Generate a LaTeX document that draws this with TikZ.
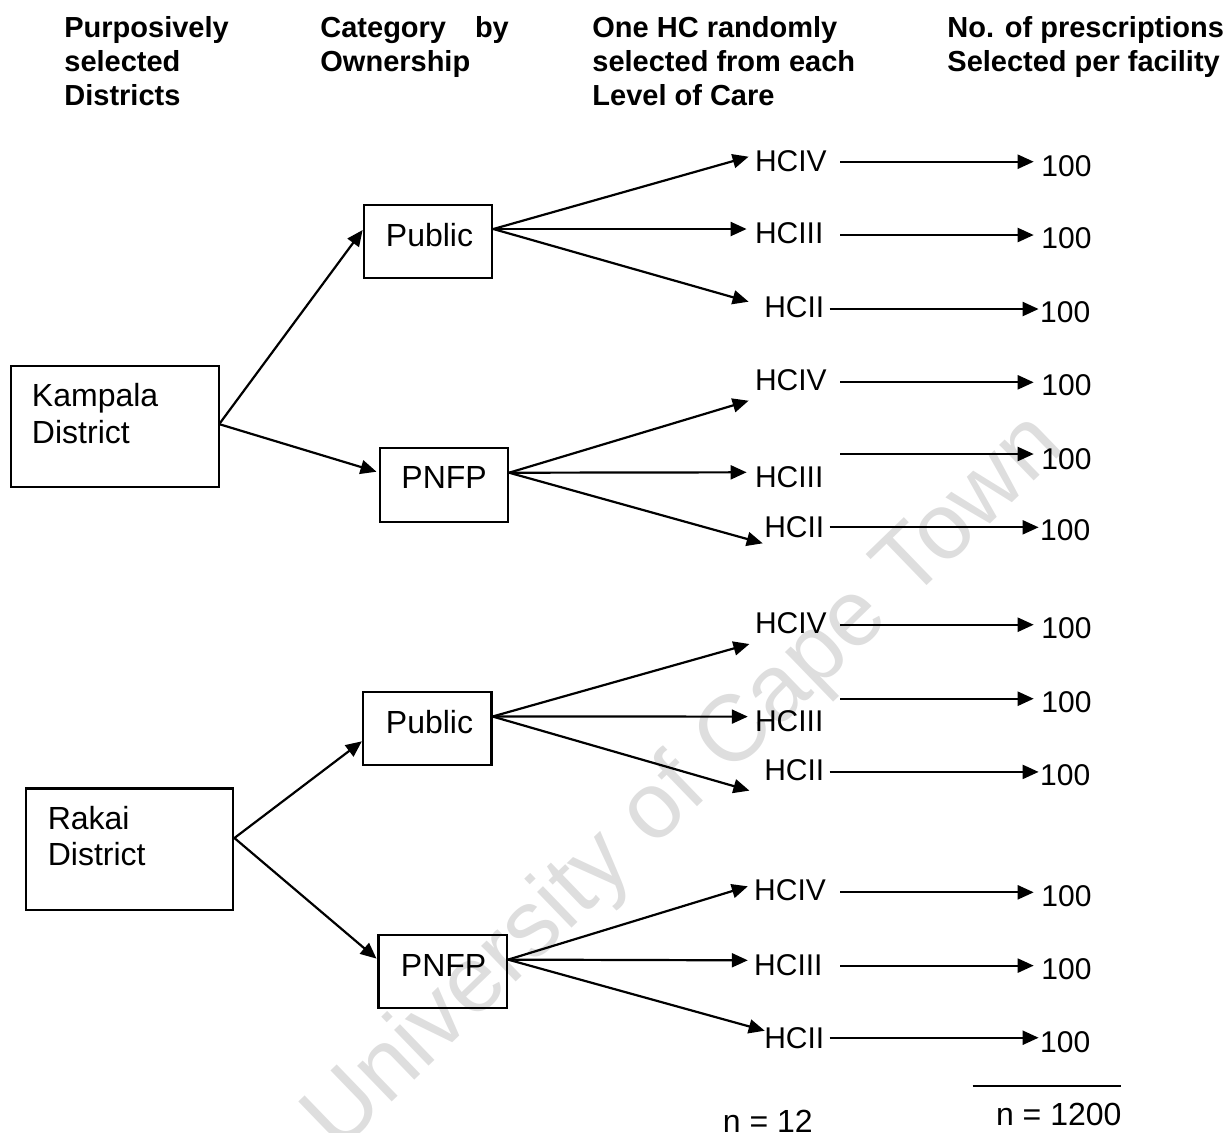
\documentclass[tikz,border=0pt]{standalone}
\usepackage{fontspec}
\setmainfont{Liberation Sans}
\usetikzlibrary{arrows.meta}
\tikzset{
 box/.style={draw, line width=1.1pt, inner sep=0pt},
 boxtxt/.style={font=\fontsize{16}{18.3}\selectfont, inner sep=0pt, anchor=base west, align=left},
 hc/.style={font=\fontsize{15}{18}\selectfont, inner sep=0pt, anchor=base west},
 hdr/.style={font=\bfseries\fontsize{14.5}{17}\selectfont, inner sep=0pt, anchor=base west, align=left},
 arr/.style={line width=1.1pt, -{Triangle[length=8pt,width=7pt]}},
 wmark/.style={rotate=44, text=black!13, font=\fontsize{47}{47}\selectfont, inner sep=0pt},
}
\begin{document}
\begin{tikzpicture}[x=0.5pt,y=-0.5pt]
\useasboundingbox (0,0) rectangle (1229,1132);
% watermark
\node[wmark] (wm) at (686,784) {University of Cape Town};
% headers (anchor = baseline of last line)
\node[hdr] (h1) at (64,105) {Purposively\\selected\\Districts};
\node[hdr] (h2) at (320,71) {Category\hspace{0.72em} by\\Ownership};
\node[hdr] (h3) at (592,105) {One HC randomly\\selected from each\\Level of Care};
\node[hdr] (h4) at (947,71) {No. of prescriptions\\Selected per facility};
% boxes
\node[box, minimum width=104pt, minimum height=60.8pt] (kam) at (114.7,426.5) {};
\node[boxtxt] (kamt) at (31.6,443.3) {Kampala\\District};
\node[box, minimum width=64.25pt, minimum height=36.8pt] (pub1) at (428,241.5) {};
\node[boxtxt] (pub1t) at (385.5,246.5) {Public};
\node[box, minimum width=64.2pt, minimum height=37pt] (pnf1) at (443.8,484.7) {};
\node[boxtxt] (pnf1t) at (401,488.2) {PNFP};
\node[box, minimum width=103.8pt, minimum height=60.9pt] (rak) at (129.5,849.4) {};
\node[boxtxt] (rakt) at (47.4,865.9) {Rakai\\District};
\node[box, minimum width=64.25pt, minimum height=36.5pt] (pub2) at (427.2,728.5) {};
\node[boxtxt] (pub2t) at (385.5,733.4) {Public};
\node[box, minimum width=64.3pt, minimum height=36.6pt] (pnf2) at (442.7,971.6) {};
\node[boxtxt] (pnf2t) at (400.5,976) {PNFP};
% district arrows
\draw[arr] ([yshift=1.6pt]kam.east) -- ([yshift=5.75pt]pub1.west);
\draw[arr] ([yshift=1.1pt]kam.east) -- ([xshift=-1pt,yshift=6.5pt]pnf1.west);
\draw[arr] ([yshift=5.7pt]rak.east) -- ([yshift=-6.4pt]pub2.west);
\draw[arr] ([yshift=5.7pt]rak.east) -- ([xshift=-0.4pt,yshift=6.5pt]pnf2.west);
% fan origins
\coordinate (oa) at ([yshift=6.25pt]pub1.east);
\coordinate (ob) at ([yshift=6pt]pnf1.east);
\coordinate (oc) at ([yshift=6pt]pub2.east);
\coordinate (od) at ([yshift=6pt]pnf2.east);
% group a
\node[hc] (a4) at (754.6,171.5) {HCIV};
\node[hc] (a3) at (754.6,243.8) {HCIII};
\node[hc] (a2) at (763.9,317.5) {HCII};
\coordinate (ta4) at (748.6,156.7);
\coordinate (ta3) at (746.6,229);
\coordinate (ta2) at (748.6,301.7);
\node[hc] (na4) at (1041,176.75) {100};
\node[hc] (na3) at (1041,248.75) {100};
\node[hc] (na2) at (1039.8,322.45) {100};
\coordinate (sa4) at (840,161.7);
\coordinate (sa3) at (840,235);
\coordinate (sa2) at (829.7,309);
% group b
\node[hc] (b4) at (754.6,390) {HCIV};
\node[hc] (b3) at (754.6,487.5) {HCIII};
\node[hc] (b2) at (763.9,537.5) {HCII};
\coordinate (tb4) at (748.6,400.7);
\coordinate (tb3) at (746.6,472.3);
\coordinate (tb2) at (762.7,543.3);
\node[hc] (nb4) at (1041,395.75) {100};
\node[hc] (nb3) at (1041,469.05) {100};
\node[hc] (nb2) at (1039.8,540.75) {100};
\coordinate (sb4) at (840,382.3);
\coordinate (sb3) at (840,454);
\coordinate (sb2) at (829.7,527.3);
% group c
\node[hc] (c4) at (754.6,633) {HCIV};
\node[hc] (c3) at (754.6,731.5) {HCIII};
\node[hc] (c2) at (763.9,780.2) {HCII};
\coordinate (tc4) at (749.4,644);
\coordinate (tc3) at (747.8,716.6);
\coordinate (tc2) at (749.4,790.6);
\node[hc] (nc4) at (1041,638.95) {100};
\node[hc] (nc3) at (1041,712.25) {100};
\node[hc] (nc2) at (1039.8,785.45) {100};
\coordinate (sc4) at (840,624.7);
\coordinate (sc3) at (840,698.7);
\coordinate (sc2) at (829.7,771.9);
% group d
\node[hc] (d4) at (753.8,900.7) {HCIV};
\node[hc] (d3) at (753.8,975.3) {HCIII};
\node[hc] (d2) at (763.9,1048.5) {HCII};
\coordinate (td4) at (747.8,886.3);
\coordinate (td3) at (747.8,960.3);
\coordinate (td2) at (764.7,1030.7);
\node[hc] (nd4) at (1041,906.95) {100};
\node[hc] (nd3) at (1041,979.75) {100};
\node[hc] (nd2) at (1039.8,1052.05) {100};
\coordinate (sd4) at (840,892.3);
\coordinate (sd3) at (840,965.6);
\coordinate (sd2) at (829.7,1037.7);
% fans and rows
\foreach \g/\o in {a/oa,b/ob,c/oc,d/od}{
  \foreach \k in {4,3,2}{
    \draw[arr] (\o) -- (t\g\k);
  }
  \draw[arr, shorten >=3.65pt] (s\g4) -- (s\g4 -| n\g4.west);
  \draw[arr, shorten >=3.65pt] (s\g3) -- (s\g3 -| n\g3.west);
  \draw[arr, shorten >=0.6pt] (s\g2) -- (s\g2 -| n\g2.west);
}
% totals
\coordinate (s1) at (972.7,1086);
\coordinate (s2) at (1121.3,1086);
\draw[line width=1pt] (s1) -- (s2);
\node[boxtxt] (ntot) at (995.6,1125) {n = 1200};
\node[boxtxt] (nhc) at (722.5,1132) {n = 12};
\end{tikzpicture}
\end{document}
